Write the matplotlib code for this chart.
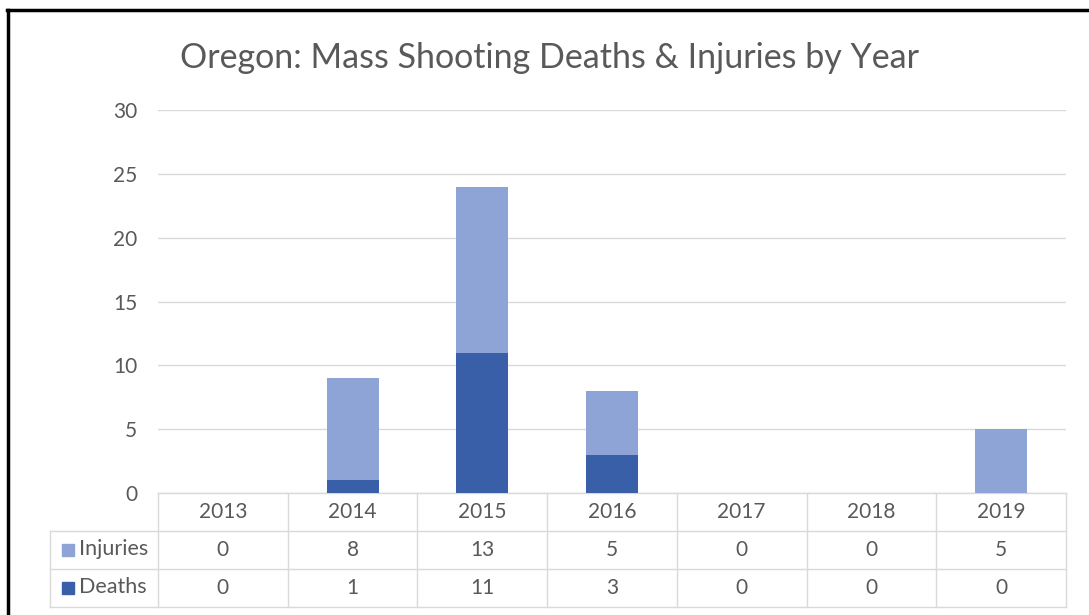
import matplotlib.pyplot as plt
import matplotlib.transforms as mtransforms
from matplotlib.lines import Line2D
from matplotlib.patches import Rectangle
import numpy as np

years = ['2013', '2014', '2015', '2016', '2017', '2018', '2019']
deaths = [0, 1, 11, 3, 0, 0, 0]
injuries = [0, 8, 13, 5, 0, 0, 5]
series_names = ['Injuries', 'Deaths']
yticks = [0, 5, 10, 15, 20, 25, 30]

c_inj = '#8EA4D7'
c_dth = '#3A5FA9'
grid_c = '#D9D9D9'
text_c = '#595959'

plt.rcParams['font.family'] = ['Lato', 'DejaVu Sans']

W, H = 1089, 615
fig = plt.figure(figsize=(W / 100, H / 100), dpi=100)

# axes in pixel positions
left, right, top, bottom = 158, 1066, 110, 493
ax = fig.add_axes([left / W, 1 - bottom / H, (right - left) / W, (bottom - top) / H])

x = np.arange(len(years))
ax.bar(x, deaths, width=0.4, color=c_dth, zorder=3)
ax.bar(x, injuries, width=0.4, bottom=deaths, color=c_inj, zorder=3)

ax.set_xlim(-0.5, len(years) - 0.5)
ax.set_ylim(0, 30)
ax.set_yticks(yticks)
ax.set_xticks([])
ax.tick_params(axis='y', length=0, pad=15, labelsize=15, labelcolor=text_c)
ax.grid(axis='y', color=grid_c, linewidth=1, zorder=0)
for s in ax.spines.values():
    s.set_visible(False)

fig.text(549 / W, 1 - 58 / H, 'Oregon: Mass Shooting Deaths & Injuries by Year',
         ha='center', va='center', fontsize=24.5, color=text_c)

# data table below the plot
trans = mtransforms.blended_transform_factory(ax.transData, ax.transAxes)
row_h = 38 / (bottom - top)
cat_w = (right - left) / len(years)
lab_left = -0.5 - 108 / cat_w
n = len(years)

def hline(x0, x1, y):
    ax.add_line(Line2D([x0, x1], [y, y], transform=trans, color=grid_c, lw=1, clip_on=False))

def vline(xv, y0, y1):
    ax.add_line(Line2D([xv, xv], [y0, y1], transform=trans, color=grid_c, lw=1, clip_on=False))

hline(-0.5, n - 0.5, 0)
for k in range(1, 4):
    hline(lab_left, n - 0.5, -k * row_h)
for i in range(n + 1):
    vline(i - 0.5, 0, -3 * row_h)
vline(lab_left, -row_h, -3 * row_h)

for i, yr in enumerate(years):
    ax.text(i, -0.5 * row_h, yr, transform=trans, ha='center', va='center',
            fontsize=15, color=text_c)

rows = [injuries, deaths]
cols = [c_inj, c_dth]
for r, (name, vals, col) in enumerate(zip(series_names, rows, cols)):
    yc = -(r + 1.5) * row_h
    for i, v in enumerate(vals):
        ax.text(i, yc, str(v), transform=trans, ha='center', va='center',
                fontsize=15, color=text_c)
    fig.patches.append(Rectangle((62 / W, 1 - (531 + 38 * r + 25) / H), 12 / W, 12 / H,
                                 transform=fig.transFigure, color=col))
    fig.text(79 / W, 1 - (531 + 38 * r + 18) / H, name, ha='left', va='center',
             fontsize=15.5, color=text_c)

# black frame (top and left)
fig.add_artist(Line2D([7 / W, 1], [1 - 10 / H, 1 - 10 / H], color='black', lw=2.5))
fig.add_artist(Line2D([8 / W, 8 / W], [0, 1 - 10 / H], color='black', lw=2.5))

fig.savefig('out.png', dpi=100, facecolor='white')
